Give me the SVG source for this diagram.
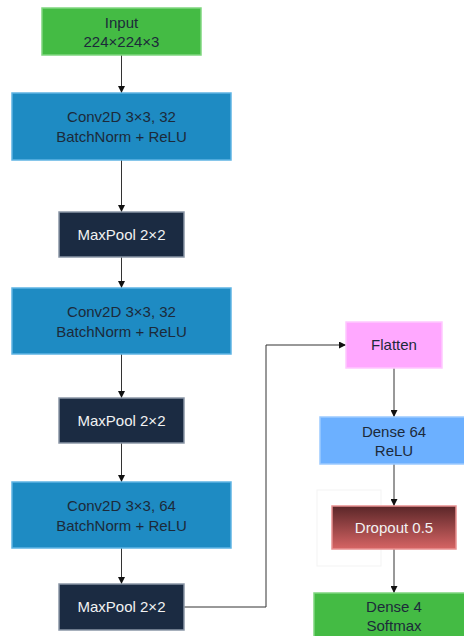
<svg xmlns="http://www.w3.org/2000/svg" width="464" height="636" viewBox="0 0 464 636">
<defs>
<style>
text{font-family:"Liberation Sans",Arial,sans-serif;font-size:15px;text-anchor:middle}
.dk{fill:#1c2a3a}
.lt{fill:#f2f2f2}
.green{fill:#44bb44;stroke:#7fd67f;stroke-width:1.5}
.blue{fill:#1e8bc3;stroke:#5fb4e4;stroke-width:1.5}
.navy{fill:#1b2b42;stroke:#8a96a6;stroke-width:1.5}
.pink{fill:#ffa8ff;stroke:#ffc8ff;stroke-width:1.5}
.sky{fill:#6cb0ff;stroke:#9ccaff;stroke-width:1.5}
.red{fill:url(#rg);stroke:#e89090;stroke-width:1.5}
.edge{fill:none;stroke:#333;stroke-width:1;marker-end:url(#ah)}
</style>
<linearGradient id="rg" x1="0" y1="0" x2="0" y2="1">
<stop offset="0" stop-color="#5a2628"/>
<stop offset="1" stop-color="#d66464"/>
</linearGradient>
<marker id="ah" viewBox="0 0 10 10" refX="10" refY="5" markerWidth="7" markerHeight="7" markerUnits="userSpaceOnUse" orient="auto">
<path d="M0,0 L10,5 L0,10 z" fill="#111"/>
</marker>
</defs>
<rect width="464" height="636" fill="#fff"/>
<rect x="317" y="490" width="64" height="76" fill="none" stroke="#f3f3f3" stroke-width="1"/>
<g id="connectors">
<path class="edge" d="M121.5,55 V93"/>
<path class="edge" d="M121.5,160 V212"/>
<path class="edge" d="M121.5,257 V288"/>
<path class="edge" d="M121.5,354 V398"/>
<path class="edge" d="M121.5,443 V482"/>
<path class="edge" d="M121.5,548 V584"/>
<path class="edge" d="M184,607 H266 V345 H346"/>
<path class="edge" d="M394,368 V417"/>
<path class="edge" d="M394,464 V506"/>
<path class="edge" d="M394,549 V593"/>
</g>
<g id="input">
<rect class="green" x="42" y="8" width="159" height="47"/>
<text class="dk" x="121.5" y="28">Input</text>
<text class="dk" x="121.5" y="47">224×224×3</text>
</g>
<g id="conv1">
<rect class="blue" x="12" y="93" width="219" height="67"/>
<text class="dk" x="121.5" y="122">Conv2D 3×3, 32</text>
<text class="dk" x="121.5" y="142">BatchNorm + ReLU</text>
</g>
<g id="pool1">
<rect class="navy" x="59" y="212" width="125" height="45"/>
<text class="lt" x="121.5" y="240">MaxPool 2×2</text>
</g>
<g id="conv2">
<rect class="blue" x="12" y="288" width="219" height="66"/>
<text class="dk" x="121.5" y="317">Conv2D 3×3, 32</text>
<text class="dk" x="121.5" y="337">BatchNorm + ReLU</text>
</g>
<g id="pool2">
<rect class="navy" x="59" y="398" width="125" height="45"/>
<text class="lt" x="121.5" y="426">MaxPool 2×2</text>
</g>
<g id="conv3">
<rect class="blue" x="12" y="482" width="219" height="66"/>
<text class="dk" x="121.5" y="511">Conv2D 3×3, 64</text>
<text class="dk" x="121.5" y="531">BatchNorm + ReLU</text>
</g>
<g id="pool3">
<rect class="navy" x="59" y="584" width="125" height="46"/>
<text class="lt" x="121.5" y="612">MaxPool 2×2</text>
</g>
<g id="flatten">
<rect class="pink" x="346" y="322" width="96" height="46"/>
<text class="dk" x="394" y="350">Flatten</text>
</g>
<g id="dense64">
<rect class="sky" x="320" y="417" width="150" height="47"/>
<text class="dk" x="394" y="437">Dense 64</text>
<text class="dk" x="394" y="456">ReLU</text>
</g>
<g id="dropout">
<rect class="red" x="332" y="506" width="124" height="43"/>
<text class="lt" x="394" y="533">Dropout 0.5</text>
</g>
<g id="dense4">
<rect class="green" x="314" y="593" width="160" height="50"/>
<text class="dk" x="394" y="612">Dense 4</text>
<text class="dk" x="394" y="631">Softmax</text>
</g>
</svg>
